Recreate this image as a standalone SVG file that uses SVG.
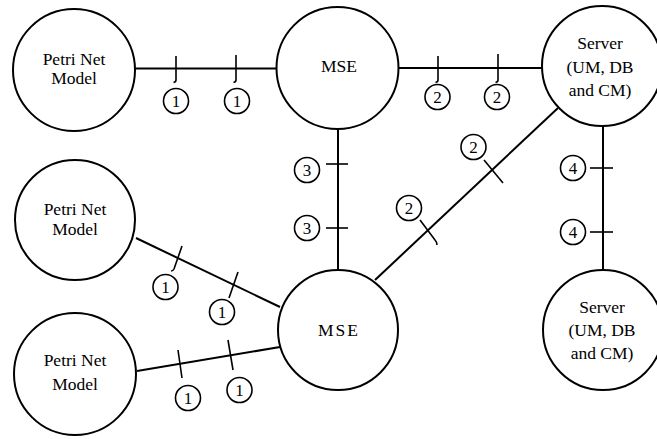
<svg xmlns="http://www.w3.org/2000/svg" width="657" height="439" viewBox="0 0 657 439">
<style>
.node{fill:#fff;stroke:#000;stroke-width:2}
.t{font-family:'Liberation Serif',Tinos,'Times New Roman',Times,serif;font-size:17.5px;fill:#000;text-anchor:middle}
.c{fill:none;stroke:#000;stroke-width:2}
.tk{fill:none;stroke:#000;stroke-width:1.6}
.lb{fill:#fff;stroke:#000;stroke-width:1.6}
.n{font-family:'Liberation Serif',Tinos,'Times New Roman',Times,serif;font-size:17px;fill:#000;text-anchor:middle}
</style>
<rect width="657" height="439" fill="#fff"/>
<g id="connectors">
<path class="c" d="M135 68.5H277"/>
<path class="c" d="M398 68H542"/>
<path class="c" d="M338 129V270"/>
<path class="c" d="M603 126V270"/>
<path class="c" d="M558 108L375 280"/>
<path class="c" d="M136 238L280 307"/>
<path class="c" d="M137 371L280 347"/>
<path class="tk" d="M176 56V80Q176 82 173.5 82.5"/>
<path class="tk" d="M236 55V80Q236 82 233.5 82.5"/>
<path class="tk" d="M438 56V80Q438 82 435.5 82.5"/>
<path class="tk" d="M498 54V80Q498 82 495.5 82.5"/>
<path class="tk" d="M326 164H348"/>
<path class="tk" d="M326 228H348"/>
<path class="tk" d="M590 168H613"/>
<path class="tk" d="M590 232H613"/>
<path class="tk" d="M484 160L503 183"/>
<path class="tk" d="M420 220L435 240Q437 242 437 245"/>
<path class="tk" d="M182 246L174 269Q173 271 171 271"/>
<path class="tk" d="M238 272L229 298"/>
<path class="tk" d="M178 350L182 378"/>
<path class="tk" d="M228 340L233 370"/>
<g id="labels">
<circle class="lb" cx="176" cy="101" r="12.5"/><text class="n" x="176" y="107">1</text>
<circle class="lb" cx="237" cy="101" r="12.5"/><text class="n" x="237" y="107">1</text>
<circle class="lb" cx="437.5" cy="97" r="12.5"/><text class="n" x="437.5" y="103">2</text>
<circle class="lb" cx="497" cy="97" r="12.5"/><text class="n" x="497" y="103">2</text>
<circle class="lb" cx="307" cy="170" r="12.5"/><text class="n" x="307" y="176">3</text>
<circle class="lb" cx="307" cy="228" r="12.5"/><text class="n" x="307" y="234">3</text>
<circle class="lb" cx="573" cy="168" r="12.5"/><text class="n" x="573" y="174">4</text>
<circle class="lb" cx="573" cy="232" r="12.5"/><text class="n" x="573" y="238">4</text>
<circle class="lb" cx="473.5" cy="147" r="12.5"/><text class="n" x="473.5" y="153">2</text>
<circle class="lb" cx="409" cy="208" r="12.5"/><text class="n" x="409" y="214">2</text>
<circle class="lb" cx="165.5" cy="287" r="12.5"/><text class="n" x="165.5" y="293">1</text>
<circle class="lb" cx="222" cy="312" r="12.5"/><text class="n" x="222" y="318">1</text>
<circle class="lb" cx="188" cy="398" r="12.5"/><text class="n" x="188" y="404">1</text>
<circle class="lb" cx="239.5" cy="390" r="12.5"/><text class="n" x="239.5" y="396">1</text>
</g>
</g>
<g id="pn1"><circle class="node" cx="74" cy="70" r="61"/><text class="t" x="74" y="65">Petri Net</text><text class="t" x="74" y="84">Model</text></g>
<g id="mse1"><circle class="node" cx="337.5" cy="68" r="61"/><text class="t" x="339" y="72">MSE</text></g>
<g id="srv1"><circle class="node" cx="602" cy="66" r="60"/><text class="t" x="600" y="49">Server</text><text class="t" x="600" y="73">(UM, DB</text><text class="t" x="600" y="96">and CM)</text></g>
<g id="pn2"><circle class="node" cx="75" cy="220" r="60"/><text class="t" x="75" y="215">Petri Net</text><text class="t" x="75" y="235">Model</text></g>
<g id="pn3"><circle class="node" cx="75" cy="374" r="61"/><text class="t" x="75" y="366">Petri Net</text><text class="t" x="75" y="390">Model</text></g>
<g id="mse2"><circle class="node" cx="338" cy="330" r="60"/><text class="t" x="339" y="336" letter-spacing="2">MSE</text></g>
<g id="srv2"><circle class="node" cx="603" cy="330" r="60"/><text class="t" x="602" y="313">Server</text><text class="t" x="602" y="336">(UM, DB</text><text class="t" x="602" y="359">and CM)</text></g>
</svg>
